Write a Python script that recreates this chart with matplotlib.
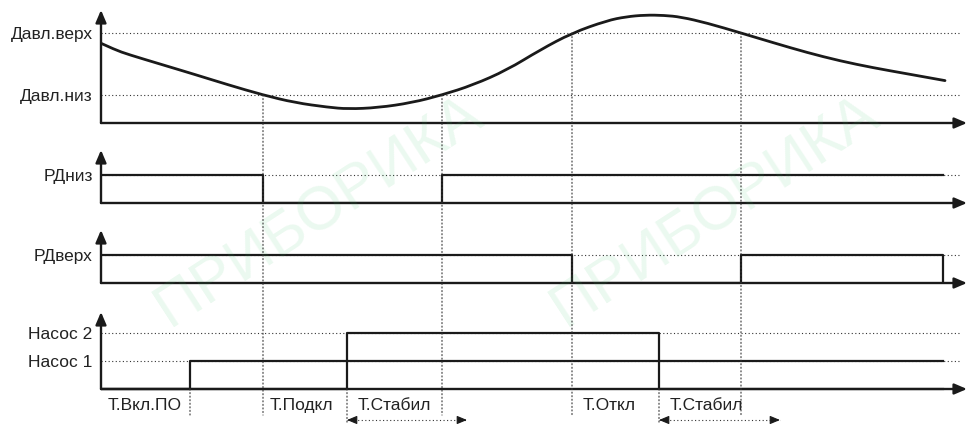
import matplotlib
matplotlib.use('Agg')
import matplotlib.pyplot as plt
from matplotlib.patches import ConnectionPatch, PathPatch
from matplotlib.path import Path

plt.rcParams['font.family'] = ['Liberation Sans', 'DejaVu Sans']

# ---------------- data ----------------
# pressure curve (time, pressure); low threshold = 1, high threshold = 2
pressure_t = [0, 14, 27, 61, 94, 127, 162, 194, 227, 247, 277, 311, 341,
              372, 406, 439, 471, 506, 525, 544, 563, 580, 606, 640,
              673, 706, 739, 772, 805, 844]
pressure_v = [1.834, 1.73, 1.655, 1.49, 1.33, 1.165, 1.0, 0.876,
              0.802, 0.774, 0.795, 0.876, 1.0, 1.161, 1.403, 1.726,
              2.0, 2.2, 2.262, 2.29, 2.285, 2.258, 2.161, 2.0,
              1.84, 1.685, 1.55, 1.44, 1.345, 1.232]
p_levels = [1.0, 2.0]
p_labels = ['Давл.низ', 'Давл.верх']

rdniz_t = [0, 162, 341, 842]
rdniz_v = [1, 0, 1, 1]
rdverh_t = [0, 471, 640, 842]
rdverh_v = [1, 0, 1, 0]
pump1_t = [0, 89, 842]
pump1_v = [0, 1, 1]
pump2_t = [0, 246, 558, 842]
pump2_v = [0, 2, 0, 0]
pump_levels = [1, 2]
pump_labels = ['Насос 1', 'Насос 2']

timer_names = ['Т.Вкл.ПО', 'Т.Подкл', 'Т.Стабил', 'Т.Откл', 'Т.Стабил']
timer_start = [0, 162, 246, 471, 558]
stab_start = [246, 558]
stab_end = [366, 679]

# event markers: time, panel where the dotted line starts, level there
event_t = [89, 162, 246, 341, 471, 558, 640]
event_panel = [3, 0, 3, 0, 0, 3, 0]
event_level = [0, 1.0, 0, 1.0, 2.0, 0, 2.0]
event_bottom = [-0.93, -0.93, -1.2, -0.93, -0.93, -1.2, -0.93]

T_AXIS = 866
T_DOT = 859

# ---------------- figure ----------------
W, H = 967, 425
fig = plt.figure(figsize=(W / 100, H / 100), dpi=100)
fig.patch.set_facecolor('white')

INK = '#1a1a1a'
TXT = '#222222'
FS = 12.5
DOT = (0, (1, 2.2))


def panel(top_px, bottom_px, ylim):
    ax = fig.add_axes([101 / W, 1 - bottom_px / H, (W - 101) / W,
                       (bottom_px - top_px) / H])
    ax.set_xlim(0, T_AXIS)
    ax.set_ylim(*ylim)
    for s in ax.spines.values():
        s.set_visible(False)
    ax.set_xticks([])
    ax.tick_params(axis='y', length=0, pad=6, labelsize=FS, labelcolor=TXT)
    ax.patch.set_alpha(0)
    return ax


def axes_arrows(ax, y0, ytop):
    ap = dict(arrowstyle='-|>,head_length=0.75,head_width=0.32', lw=1.7,
              color=INK, shrinkA=0, shrinkB=0)
    ax.annotate('', xy=(0, ytop), xytext=(0, y0), arrowprops=ap,
                annotation_clip=False, zorder=5)
    ax.annotate('', xy=(T_AXIS, y0), xytext=(0, y0), arrowprops=ap,
                annotation_clip=False, zorder=5)


# faint watermark
for (x, y, s, fsz) in [(0.33, 0.50, 'ПРИБОРИКА', 44), (0.74, 0.50, 'ПРИБОРИКА', 44)]:
    fig.text(x, y, s, rotation=33, color='#3cc36a', alpha=0.1, fontsize=fsz,
             ha='center', va='center', zorder=0)

# panel 1: pressure (smooth quadratic B-spline path through the read points)
ax1 = panel(10, 123, (0.548, 2.371))
ax1.hlines(p_levels, 0, T_DOT, colors='#333333', lw=0.8, linestyles=DOT)
pts = list(zip(pressure_t, pressure_v))
verts = [pts[0]]
codes = [Path.MOVETO]
for i in range(1, len(pts) - 2):
    mid = ((pts[i][0] + pts[i + 1][0]) / 2, (pts[i][1] + pts[i + 1][1]) / 2)
    verts += [pts[i], mid]
    codes += [Path.CURVE3, Path.CURVE3]
verts += [pts[-2], pts[-1]]
codes += [Path.CURVE3, Path.CURVE3]
ax1.add_patch(PathPatch(Path(verts, codes), fill=False, edgecolor=INK, lw=2.0,
                        capstyle='round', zorder=4))
ax1.set_yticks(p_levels, p_labels)
axes_arrows(ax1, 0.548, 2.371)

# panel 2: RD low
ax2 = panel(150, 203, (0, 1.893))
ax2.hlines([1], 0, T_DOT, colors='#333333', lw=0.8, linestyles=DOT)
ax2.plot(rdniz_t, rdniz_v, drawstyle='steps-post', color=INK, lw=1.6, zorder=4)
ax2.set_yticks([1], ['РДниз'])
axes_arrows(ax2, 0, 1.893)

# panel 3: RD high
ax3 = panel(230, 283, (0, 1.893))
ax3.hlines([1], 0, T_DOT, colors='#333333', lw=0.8, linestyles=DOT)
ax3.plot(rdverh_t, rdverh_v, drawstyle='steps-post', color=INK, lw=1.6, zorder=4)
ax3.set_yticks([1], ['РДверх'])
axes_arrows(ax3, 0, 1.893)

# panel 4: pumps
ax4 = panel(312, 425.4, (-1.3, 2.75))
ax4.hlines(pump_levels, 0, T_DOT, colors='#333333', lw=0.8, linestyles=DOT)
ax4.plot(pump1_t, pump1_v, drawstyle='steps-post', color=INK, lw=1.6, zorder=4)
ax4.plot(pump2_t, pump2_v, drawstyle='steps-post', color=INK, lw=1.6, zorder=4)
ax4.set_yticks(pump_levels, pump_labels)
axes_arrows(ax4, 0, 2.75)

axes = [ax1, ax2, ax3, ax4]

# vertical dotted event lines
for t, pi, lv, yb in zip(event_t, event_panel, event_level, event_bottom):
    con = ConnectionPatch(xyA=(t, lv), coordsA=axes[pi].transData,
                          xyB=(t, yb), coordsB=ax4.transData,
                          color='#333333', lw=0.8, linestyle=DOT, zorder=1)
    fig.add_artist(con)

# timer labels
for name, t in zip(timer_names, timer_start):
    off = 5 if t in (0, 162) else 8
    ax4.annotate(name, xy=(t, -0.6), xytext=(off, 0), textcoords='offset points',
                 ha='left', va='center', fontsize=FS, color=TXT)

# stabilisation interval arrows
head = dict(arrowstyle='-|>,head_length=0.6,head_width=0.25', lw=0.8,
            color=INK, shrinkA=0, shrinkB=0)
for a, b in zip(stab_start, stab_end):
    ax4.plot([a, b], [-1.107, -1.107], color='#333333', lw=0.8, linestyle=DOT,
             clip_on=False)
    ax4.annotate('', xy=(a, -1.107), xytext=(a + 9, -1.107), arrowprops=head,
                 annotation_clip=False)
    ax4.annotate('', xy=(b, -1.107), xytext=(b - 9, -1.107), arrowprops=head,
                 annotation_clip=False)

fig.savefig('out.png', dpi=100, facecolor='white')
